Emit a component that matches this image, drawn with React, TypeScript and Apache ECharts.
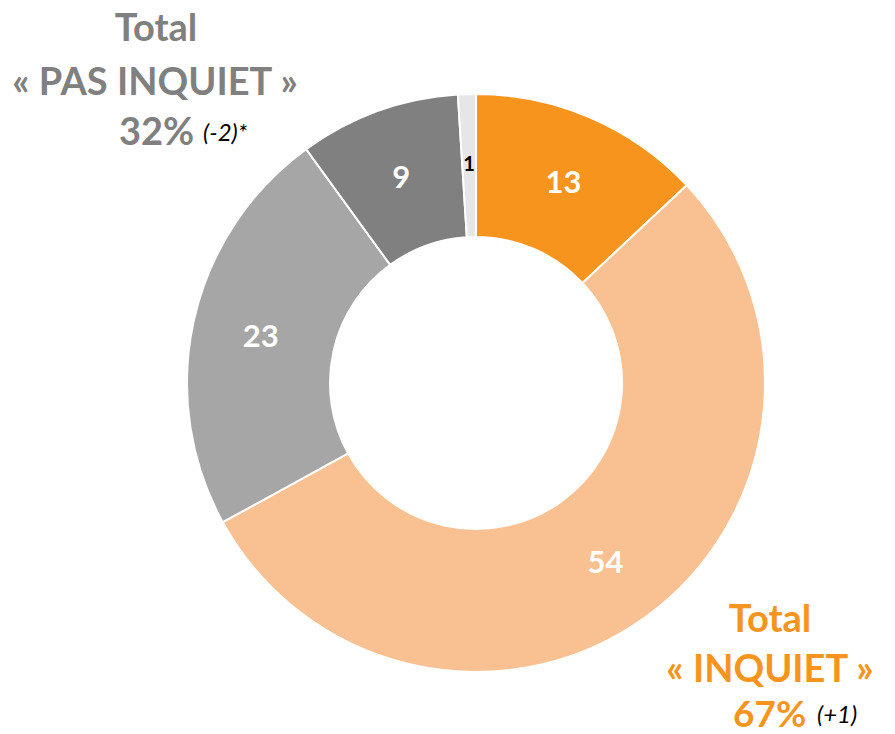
import React, { useEffect, useRef } from "react";
import * as echarts from "echarts";

const categories = ["Très inquiet", "Plutôt inquiet", "Plutôt pas inquiet", "Pas du tout inquiet", "NSP"];
const values = [13, 54, 23, 9, 1];
const colors = ["#F7941D", "#F9C192", "#A6A6A6", "#808080", "#E7E6E6"];
const labelColors = ["#FFFFFF", "#FFFFFF", "#FFFFFF", "#FFFFFF", "#000000"];

const FONT = "Lato";
const GRAY = "#808080";
const ORANGE = "#F7941D";

const big = (text: string, x: number, y: number, fill: string, align = "center", size = 38) => ({
  type: "text",
  x,
  y,
  style: { text, fill, font: `bold ${size}px ${FONT}`, lineHeight: 34, textAlign: align, textVerticalAlign: "middle" },
});
const small = (text: string, x: number, y: number) => ({
  type: "text",
  x,
  y,
  style: { text, fill: "#000000", font: `italic 24px ${FONT}`, lineHeight: 24, textAlign: "left", textVerticalAlign: "middle" },
});

export default function App() {
  const ref = useRef<HTMLDivElement>(null);
  useEffect(() => {
    if (!ref.current) return;
    const chart = echarts.init(ref.current, null, { renderer: "svg" });
    chart.setOption({
      animation: false,
      backgroundColor: "#FFFFFF",
      series: [
        {
          type: "pie",
          center: [476, 383],
          radius: [146, 289],
          startAngle: 90,
          clockwise: true,
          avoidLabelOverlap: false,
          data: categories.map((name, i) => ({
            name,
            value: values[i],
            itemStyle: { color: colors[i] },
            label: { color: labelColors[i], fontSize: i === 4 ? 20 : 31 },
          })),
          itemStyle: { borderColor: "#FFFFFF", borderWidth: 2 },
          label: {
            show: true,
            position: "inside",
            formatter: "{c}",
            fontFamily: FONT,
            fontWeight: "bold",
          },
          labelLine: { show: false },
          emphasis: { disabled: true },
        },
      ],
      graphic: [
        big("Total", 156, 26, GRAY),
        big("« PAS INQUIET »", 155, 80, GRAY),
        big("32%", 119, 130, GRAY, "left"),
        small("(-2)*", 203, 131),
        big("Total", 770, 617, ORANGE),
        big("« INQUIET »", 770, 667, ORANGE),
        big("67%", 733, 712, ORANGE, "left", 37),
        small("(+1)", 817, 713),
      ],
    });
    return () => chart.dispose();
  }, []);
  return <div ref={ref} style={{ position: "absolute", left: 0, top: 0, width: 895, height: 734 }} />;
}
